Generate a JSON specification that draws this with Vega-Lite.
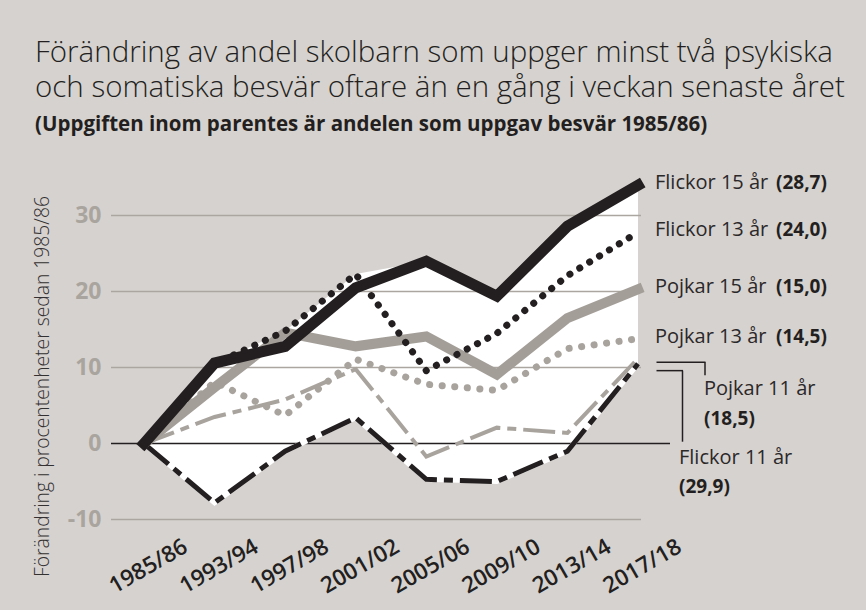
{
  "$schema": "https://vega.github.io/schema/vega-lite/v6.json",
  "width": 530,
  "height": 380,
  "autosize": {"type": "none"},
  "padding": {"left": 111, "top": 170, "right": 225, "bottom": 60},
  "background": "#d6d2cf",
  "config": {"view": {"stroke": null}, "font": "Open Sans"},
  "title": {
    "text": ["Förändring av andel skolbarn som uppger minst två psykiska", "och somatiska besvär oftare än en gång i veckan senaste året"],
    "subtitle": "(Uppgiften inom parentes är andelen som uppgav besvär 1985/86)",
    "anchor": "start",
    "frame": "group",
    "dx": -76,
    "offset": 27,
    "font": "Open Sans",
    "fontSize": 29.5,
    "fontWeight": 300,
    "color": "#231f20",
    "lineHeight": 35,
    "subtitleFont": "Open Sans",
    "subtitleFontSize": 20.5,
    "subtitleFontWeight": "bold",
    "subtitleColor": "#231f20",
    "subtitlePadding": 11
  },
  "datasets": {
    "series": [
      {"group": "Flickor 15 år", "year": "1985/86", "value": 0},
      {"group": "Flickor 15 år", "year": "1993/94", "value": 10.6},
      {"group": "Flickor 15 år", "year": "1997/98", "value": 12.8},
      {"group": "Flickor 15 år", "year": "2001/02", "value": 20.5},
      {"group": "Flickor 15 år", "year": "2005/06", "value": 24.0},
      {"group": "Flickor 15 år", "year": "2009/10", "value": 19.4},
      {"group": "Flickor 15 år", "year": "2013/14", "value": 28.6},
      {"group": "Flickor 15 år", "year": "2017/18", "value": 34.0, "note": "(28,7)"},
      {"group": "Flickor 13 år", "year": "1985/86", "value": 0},
      {"group": "Flickor 13 år", "year": "1993/94", "value": 10.5},
      {"group": "Flickor 13 år", "year": "1997/98", "value": 14.8},
      {"group": "Flickor 13 år", "year": "2001/02", "value": 22.3},
      {"group": "Flickor 13 år", "year": "2005/06", "value": 9.6},
      {"group": "Flickor 13 år", "year": "2009/10", "value": 14.5},
      {"group": "Flickor 13 år", "year": "2013/14", "value": 22.1},
      {"group": "Flickor 13 år", "year": "2017/18", "value": 27.8, "note": "(24,0)"},
      {"group": "Pojkar 15 år", "year": "1985/86", "value": 0},
      {"group": "Pojkar 15 år", "year": "1993/94", "value": 7.4},
      {"group": "Pojkar 15 år", "year": "1997/98", "value": 14.6},
      {"group": "Pojkar 15 år", "year": "2001/02", "value": 12.8},
      {"group": "Pojkar 15 år", "year": "2005/06", "value": 14.1},
      {"group": "Pojkar 15 år", "year": "2009/10", "value": 9.1},
      {"group": "Pojkar 15 år", "year": "2013/14", "value": 16.5},
      {"group": "Pojkar 15 år", "year": "2017/18", "value": 20.3, "note": "(15,0)"},
      {"group": "Pojkar 13 år", "year": "1985/86", "value": 0},
      {"group": "Pojkar 13 år", "year": "1993/94", "value": 8.1},
      {"group": "Pojkar 13 år", "year": "1997/98", "value": 3.7},
      {"group": "Pojkar 13 år", "year": "2001/02", "value": 11.1},
      {"group": "Pojkar 13 år", "year": "2005/06", "value": 7.8},
      {"group": "Pojkar 13 år", "year": "2009/10", "value": 7.0},
      {"group": "Pojkar 13 år", "year": "2013/14", "value": 12.5},
      {"group": "Pojkar 13 år", "year": "2017/18", "value": 13.8, "note": "(14,5)"},
      {"group": "Pojkar 11 år", "year": "1985/86", "value": 0},
      {"group": "Pojkar 11 år", "year": "1993/94", "value": 3.5},
      {"group": "Pojkar 11 år", "year": "1997/98", "value": 5.8},
      {"group": "Pojkar 11 år", "year": "2001/02", "value": 9.8},
      {"group": "Pojkar 11 år", "year": "2005/06", "value": -1.7},
      {"group": "Pojkar 11 år", "year": "2009/10", "value": 2.1},
      {"group": "Pojkar 11 år", "year": "2013/14", "value": 1.4},
      {"group": "Pojkar 11 år", "year": "2017/18", "value": 11.2, "note": "(18,5)"},
      {"group": "Flickor 11 år", "year": "1985/86", "value": 0},
      {"group": "Flickor 11 år", "year": "1993/94", "value": -7.8},
      {"group": "Flickor 11 år", "year": "1997/98", "value": -1.0},
      {"group": "Flickor 11 år", "year": "2001/02", "value": 3.4},
      {"group": "Flickor 11 år", "year": "2005/06", "value": -4.7},
      {"group": "Flickor 11 år", "year": "2009/10", "value": -5.0},
      {"group": "Flickor 11 år", "year": "2013/14", "value": -1.0},
      {"group": "Flickor 11 år", "year": "2017/18", "value": 10.5, "note": "(29,9)"}
    ],
    "grid": [{"value": -10}, {"value": 10}, {"value": 20}, {"value": 30}]
  },
  "data": {"name": "series"},
  "layer": [
    {
      "transform": [{"aggregate": [{"op": "max", "field": "value", "as": "value"}, {"op": "min", "field": "value", "as": "lo"}], "groupby": ["year"]}],
      "mark": {"type": "area", "fill": "white", "interpolate": "linear"},
      "encoding": {
        "x": {"field": "year", "type": "ordinal", "title": null,
          "scale": {"type": "point", "range": [33, 527], "padding": 0},
          "axis": {"domain": false, "ticks": false, "grid": false, "labelAngle": -30, "labelAlign": "center", "labelBaseline": "middle", "labelPadding": 16, "labelOffset": 4, "labelFont": "Open Sans", "labelFontSize": 22.5, "labelFontWeight": 600, "labelColor": "#231f20"}},
        "y": {"field": "value", "type": "quantitative", "title": "Förändring i procentenheter sedan 1985/86",
          "scale": {"domain": [-14, 36], "nice": false, "zero": false},
          "axis": {"values": [-10, 0, 10, 20, 30], "domain": false, "ticks": false, "grid": false, "labelPadding": 10, "labelFont": "Open Sans", "labelFontSize": 23, "labelFontWeight": "bold", "labelColor": "#a9a59e", "labelExpr": "replace(datum.label, '−', '-')", "titleFont": "Open Sans", "titleFontSize": 19.3, "titleFontWeight": 300, "titleColor": "#333031", "titleAngle": -90, "titleAlign": "center", "titleBaseline": "middle", "titleX": -69, "titleY": 216}},
        "y2": {"field": "lo"}
      }
    },
    {
      "data": {"name": "grid"},
      "mark": {"type": "rule", "color": "#aba69f", "strokeWidth": 1.5},
      "encoding": {"y": {"field": "value", "type": "quantitative", "title": "Förändring i procentenheter sedan 1985/86"}}
    },
    {
      "data": {"values": [{}]},
      "mark": {"type": "rule", "color": "#231f20", "strokeWidth": 1.5, "xOffset": -33, "x2Offset": 32},
      "encoding": {"x": {"datum": "1985/86", "type": "ordinal"}, "x2": {"datum": "2017/18"}, "y": {"datum": 0, "type": "quantitative"}}
    },
    {
      "transform": [{"filter": "datum.group === 'Pojkar 11 år'"}],
      "mark": {"type": "line", "color": "#a8a39d", "strokeWidth": 4, "strokeDash": [32, 7, 9, 7], "strokeCap": "butt"},
      "encoding": {"x": {"field": "year", "type": "ordinal", "title": null}, "y": {"field": "value", "type": "quantitative", "title": "Förändring i procentenheter sedan 1985/86"}}
    },
    {
      "transform": [{"filter": "datum.group === 'Flickor 11 år'"}],
      "mark": {"type": "line", "color": "#ffffff", "strokeWidth": 5},
      "encoding": {"x": {"field": "year", "type": "ordinal", "title": null}, "y": {"field": "value", "type": "quantitative", "title": "Förändring i procentenheter sedan 1985/86"}}
    },
    {
      "transform": [{"filter": "datum.group === 'Flickor 11 år'"}],
      "mark": {"type": "line", "color": "#231f20", "strokeWidth": 5, "strokeDash": [32, 7, 9, 7], "strokeCap": "butt"},
      "encoding": {"x": {"field": "year", "type": "ordinal", "title": null}, "y": {"field": "value", "type": "quantitative", "title": "Förändring i procentenheter sedan 1985/86"}}
    },
    {
      "transform": [{"filter": "datum.group === 'Pojkar 13 år'"}],
      "mark": {"type": "line", "color": "#a8a39d", "strokeWidth": 7, "strokeDash": [0.1, 12.5], "strokeCap": "round"},
      "encoding": {"x": {"field": "year", "type": "ordinal", "title": null}, "y": {"field": "value", "type": "quantitative", "title": "Förändring i procentenheter sedan 1985/86"}}
    },
    {
      "transform": [{"filter": "datum.group === 'Pojkar 15 år'"}],
      "mark": {"type": "line", "color": "#a39e98", "strokeWidth": 10, "strokeCap": "square"},
      "encoding": {"x": {"field": "year", "type": "ordinal", "title": null}, "y": {"field": "value", "type": "quantitative", "title": "Förändring i procentenheter sedan 1985/86"}}
    },
    {
      "transform": [{"filter": "datum.group === 'Flickor 15 år'"}],
      "mark": {"type": "line", "color": "#231f20", "strokeWidth": 11, "strokeCap": "square"},
      "encoding": {"x": {"field": "year", "type": "ordinal", "title": null}, "y": {"field": "value", "type": "quantitative", "title": "Förändring i procentenheter sedan 1985/86"}}
    },
    {
      "transform": [{"filter": "datum.group === 'Flickor 13 år'"}],
      "mark": {"type": "line", "color": "#231f20", "strokeWidth": 7, "strokeDash": [0.1, 11.5], "strokeCap": "round"},
      "encoding": {"x": {"field": "year", "type": "ordinal", "title": null}, "y": {"field": "value", "type": "quantitative", "title": "Förändring i procentenheter sedan 1985/86"}}
    },
    {
      "data": {"values": [{}]},
      "mark": {"type": "rule", "color": "#231f20", "strokeWidth": 1.5, "xOffset": 18.5, "x2Offset": 67.5},
      "encoding": {"x": {"datum": "2017/18", "type": "ordinal"}, "x2": {"datum": "2017/18"}, "y": {"datum": 10.7, "type": "quantitative"}}
    },
    {
      "data": {"values": [{}]},
      "mark": {"type": "rule", "color": "#231f20", "strokeWidth": 1.5, "xOffset": 67},
      "encoding": {"x": {"datum": "2017/18", "type": "ordinal"}, "y": {"datum": 10.7, "type": "quantitative"}, "y2": {"datum": 9.0}}
    },
    {
      "data": {"values": [{}]},
      "mark": {"type": "rule", "color": "#231f20", "strokeWidth": 1.5, "xOffset": 18.5, "x2Offset": 45},
      "encoding": {"x": {"datum": "2017/18", "type": "ordinal"}, "x2": {"datum": "2017/18"}, "y": {"datum": 9.6, "type": "quantitative"}}
    },
    {
      "data": {"values": [{}]},
      "mark": {"type": "rule", "color": "#231f20", "strokeWidth": 1.5, "xOffset": 44.5},
      "encoding": {"x": {"datum": "2017/18", "type": "ordinal"}, "y": {"datum": 9.6, "type": "quantitative"}, "y2": {"datum": 0.25}}
    },
    {
      "transform": [{"filter": "datum.year === '2017/18' && indexof(['Flickor 15 år','Flickor 13 år','Pojkar 15 år','Pojkar 13 år'], datum.group) >= 0"}],
      "mark": {"type": "text", "align": "left", "baseline": "alphabetic", "dx": 17, "dy": 4, "font": "Open Sans", "fontSize": 20, "color": "#2b2829"},
      "encoding": {"x": {"field": "year", "type": "ordinal", "title": null}, "y": {"field": "value", "type": "quantitative", "title": "Förändring i procentenheter sedan 1985/86"}, "text": {"field": "group"}}
    },
    {
      "transform": [{"filter": "datum.year === '2017/18' && indexof(['Flickor 15 år','Flickor 13 år','Pojkar 15 år','Pojkar 13 år'], datum.group) >= 0"}],
      "mark": {"type": "text", "align": "left", "baseline": "alphabetic", "dx": 138, "dy": 4, "font": "Open Sans", "fontSize": 19, "fontWeight": "bold", "color": "#231f20"},
      "encoding": {"x": {"field": "year", "type": "ordinal", "title": null}, "y": {"field": "value", "type": "quantitative", "title": "Förändring i procentenheter sedan 1985/86"}, "text": {"field": "note"}}
    },
    {
      "transform": [{"filter": "datum.year === '2017/18' && datum.group === 'Pojkar 11 år'"}],
      "mark": {"type": "text", "align": "left", "baseline": "alphabetic", "dx": 66, "dy": 36.5, "font": "Open Sans", "fontSize": 20, "color": "#2b2829"},
      "encoding": {"x": {"field": "year", "type": "ordinal", "title": null}, "y": {"field": "value", "type": "quantitative", "title": "Förändring i procentenheter sedan 1985/86"}, "text": {"field": "group"}}
    },
    {
      "transform": [{"filter": "datum.year === '2017/18' && datum.group === 'Pojkar 11 år'"}],
      "mark": {"type": "text", "align": "left", "baseline": "alphabetic", "dx": 66, "dy": 66.5, "font": "Open Sans", "fontSize": 19, "fontWeight": "bold", "color": "#231f20"},
      "encoding": {"x": {"field": "year", "type": "ordinal", "title": null}, "y": {"field": "value", "type": "quantitative", "title": "Förändring i procentenheter sedan 1985/86"}, "text": {"field": "note"}}
    },
    {
      "transform": [{"filter": "datum.year === '2017/18' && datum.group === 'Flickor 11 år'"}],
      "mark": {"type": "text", "align": "left", "baseline": "alphabetic", "dx": 41, "dy": 100, "font": "Open Sans", "fontSize": 20, "color": "#2b2829"},
      "encoding": {"x": {"field": "year", "type": "ordinal", "title": null}, "y": {"field": "value", "type": "quantitative", "title": "Förändring i procentenheter sedan 1985/86"}, "text": {"field": "group"}}
    },
    {
      "transform": [{"filter": "datum.year === '2017/18' && datum.group === 'Flickor 11 år'"}],
      "mark": {"type": "text", "align": "left", "baseline": "alphabetic", "dx": 41, "dy": 129, "font": "Open Sans", "fontSize": 19, "fontWeight": "bold", "color": "#231f20"},
      "encoding": {"x": {"field": "year", "type": "ordinal", "title": null}, "y": {"field": "value", "type": "quantitative", "title": "Förändring i procentenheter sedan 1985/86"}, "text": {"field": "note"}}
    }
  ]
}
